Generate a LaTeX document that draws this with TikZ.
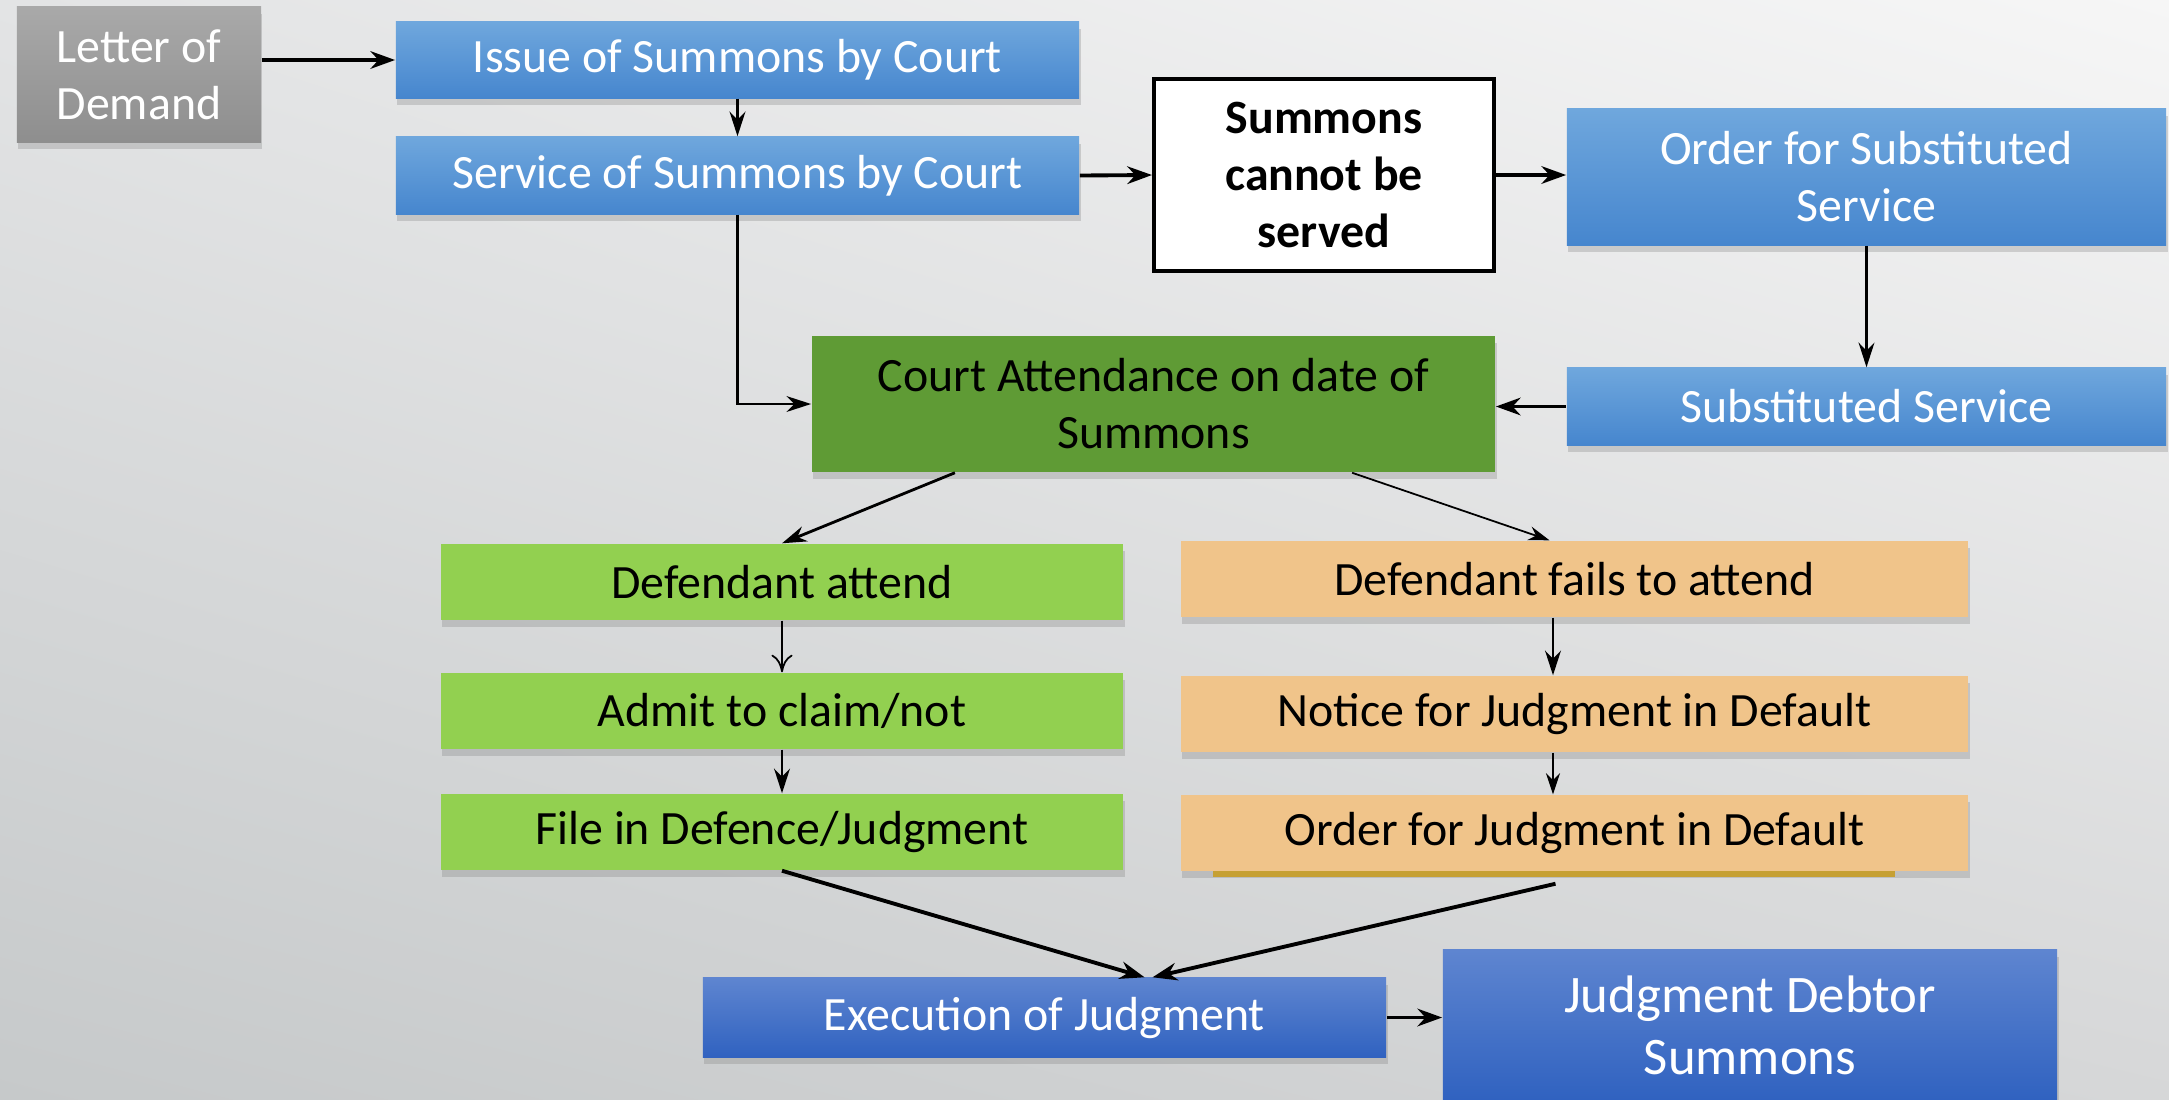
\documentclass[tikz,border=0pt]{standalone}
\usepackage{fontspec}
\setmainfont{Carlito}
\usepackage{xcolor}
\usetikzlibrary{arrows.meta,positioning,calc,shadows,shadings}

\definecolor{bgUL}{HTML}{E3E4E5}
\definecolor{bgUR}{HTML}{F6F6F6}
\definecolor{bgLL}{HTML}{C6C9CA}
\definecolor{bgLR}{HTML}{D6D7D8}
\definecolor{greyTop}{HTML}{A9A9A9}
\definecolor{greyBot}{HTML}{8E8E8E}
\definecolor{blueTop}{HTML}{6FA7DD}
\definecolor{blueBot}{HTML}{4686CE}
\definecolor{navyTop}{HTML}{5E85D0}
\definecolor{navyBot}{HTML}{3062C0}
\definecolor{courtGreen}{HTML}{5F9B35}
\definecolor{limeGreen}{HTML}{92D050}
\definecolor{sandOrange}{HTML}{F0C48A}
\definecolor{goldStrip}{HTML}{E5AF12}

\begin{document}
\begin{tikzpicture}[x=0.01cm, y=-0.01cm,
    box/.style={rectangle, inner sep=0pt, align=center,
      font=\fontsize{13.6}{16.2}\selectfont,
      drop shadow={opacity=0.3, shadow xshift=0.4pt, shadow yshift=-2pt}},
    greybox/.style={box, top color=greyTop, bottom color=greyBot, text=white},
    bluebox/.style={box, top color=blueTop, bottom color=blueBot, text=white},
    navybox/.style={box, top color=navyTop, bottom color=navyBot, text=white},
    courtbox/.style={box, fill=courtGreen},
    limebox/.style={box, fill=limeGreen, minimum width=6.82cm, minimum height=0.76cm},
    sandbox/.style={box, fill=sandOrange, minimum width=7.87cm, minimum height=0.76cm},
    plainbox/.style={rectangle, inner sep=0pt, align=center, draw=black, line width=1.1pt,
      fill=white, font=\bfseries\fontsize{13.6}{16.2}\selectfont},
    arr/.style={-{Stealth[length=7pt,width=5pt]}, line width=1.1pt},
    midarr/.style={-{Stealth[length=7pt,width=4.5pt]}, line width=0.8pt},
    thinarr/.style={-{Stealth[length=6pt,width=4pt]}, line width=0.5pt},
    openarr/.style={-{To[length=5pt,width=6pt]}, line width=0.5pt}]

    % page and background
    \useasboundingbox (0,0) rectangle (2169,1099);
    \clip (0,0) rectangle (2169,1099);
    \shade[upper left=bgUL, upper right=bgUR, lower left=bgLL, lower right=bgLR] (0,0) rectangle (2169,1099);

    % top row
    \node[greybox, minimum width=2.44cm, minimum height=1.35cm] (letter) at (139,74.5) {Letter of\\Demand};
    \node[bluebox, minimum width=6.83cm, minimum height=0.76cm] (issue) at (737.5,60) {Issue of Summons by Court};
    \node[bluebox, minimum width=6.83cm, minimum height=0.77cm] (service) at (737.5,175.5) {Service of Summons by Court};
    \node[plainbox, minimum width=3.40cm, minimum height=1.92cm] (cannot) at (1324,175) {Summons\\cannot be\\served};
    \node[bluebox, minimum width=5.99cm, minimum height=1.36cm] (order) at (1866.5,177) {Order for Substituted\\Service};
    \node[bluebox, minimum width=5.99cm, minimum height=0.77cm] (subst) at (1866.5,406.5) {Substituted Service};
    \node[courtbox, minimum width=6.83cm, minimum height=1.36cm] (court) at (1153.5,404) {Court Attendance on date of\\Summons};

    % left branch
    \node[limebox] (attend) at (782,582) {Defendant attend};
    \node[limebox] (admit) at (782,711) {Admit to claim/not};
    \node[limebox] (file) at (782,832) {File in Defence/Judgment};

    % right branch
    \fill[goldStrip] (1213,866) rectangle (1895,877);
    \node[sandbox] (fails) at (1574.5,579) {Defendant fails to attend};
    \node[sandbox] (notice) at (1574.5,714) {Notice for Judgment in Default};
    \node[sandbox] (ordj) at (1574.5,833) {Order for Judgment in Default};

    % bottom row
    \node[navybox, minimum width=6.83cm, minimum height=0.79cm] (exec) at (1044.5,1017.5) {Execution of Judgment};
    \node[navybox, minimum width=6.14cm, minimum height=1.50cm,
      font=\fontsize{15}{17.6}\selectfont] (debtor) at (1750,1025) {Judgment Debtor\\Summons};

    % connectors
    \draw[arr] (letter.east |- issue.west) -- (issue.west);
    \draw[midarr] (issue.south) -- (service.north);
    \draw[arr] (service.east) -- (cannot.west);
    \draw[arr] (cannot.east) -- (cannot.east -| order.west);
    \draw[midarr] (order.south) -- (subst.north);
    \draw[arr] (subst.west) -- (subst.west -| court.east);
    \draw[midarr] (service.south) |- (court.west);
    \draw[midarr] ($(court.south west)!0.21!(court.south east)$) -- (attend.north);
    \draw[thinarr] ($(court.south west)!0.79!(court.south east)$) -- ([xshift=-0.25cm]fails.north);
    \draw[openarr] (attend.south) -- (admit.north);
    \draw[midarr] (admit.south) -- (file.north);
    \draw[midarr] ([xshift=-0.215cm]fails.south) -- ([xshift=-0.215cm]notice.north);
    \draw[thinarr] ([xshift=-0.215cm]notice.south) -- ([xshift=-0.215cm]ordj.north);
    \draw[arr] (file.south) -- ([xshift=1.0cm]exec.north);
    \draw[arr] ([xshift=-0.19cm,yshift=-0.12cm]ordj.south) -- ([xshift=1.08cm]exec.north);
    \draw[arr] (exec.east) -- (exec.east -| debtor.west);
\end{tikzpicture}
\end{document}
